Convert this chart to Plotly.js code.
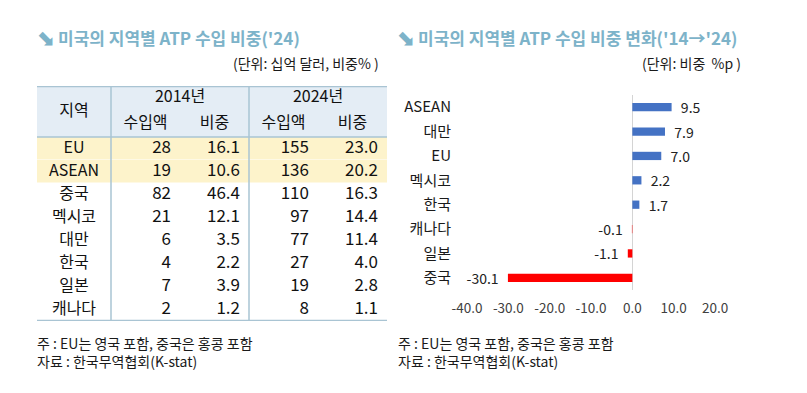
<!DOCTYPE html>
<html>
<head>
<meta charset="utf-8">
<script src="https://cdn.plot.ly/plotly-3.0.1.min.js"></script>
<style>
  html, body { margin: 0; padding: 0; background: #ffffff; }
  #chart { width: 807px; height: 393px; }
</style>
</head>
<body>
<div id="chart"></div>
<script>
// ---------- Data: table (left) ----------
const regions      = ["EU", "ASEAN", "중국", "멕시코", "대만", "한국", "일본", "캐나다"];
const imports2014  = [28, 19, 82, 21, 6, 4, 7, 2];
const share2014    = [16.1, 10.6, 46.4, 12.1, 3.5, 2.2, 3.9, 1.2];
const imports2024  = [155, 136, 110, 97, 77, 27, 19, 8];
const share2024    = [23.0, 20.2, 16.3, 14.4, 11.4, 4.0, 2.8, 1.1];
const highlighted  = ["EU", "ASEAN"];
const regionHeader = "지역";
const yearHeaders  = ["2014년", "2024년"];
const subHeaders   = ["수입액", "비중"];

// ---------- Data: bar chart (right) ----------
const barRegions   = ["ASEAN", "대만", "EU", "멕시코", "한국", "캐나다", "일본", "중국"];
const shareChange  = [9.5, 7.9, 7.0, 2.2, 1.7, -0.1, -1.1, -30.1];
const xTicks       = [-40, -30, -20, -10, 0, 10, 20];

// ---------- Text ----------
const leftTitle  = "미국의 지역별 ATP 수입 비중('24)";
const rightTitle = "미국의 지역별 ATP 수입 비중 변화('14→'24)";
const leftUnit   = "(단위: 십억 달러, 비중% )";
const rightUnit  = "(단위: 비중  %p )";
const note1      = "주 : EU는 영국 포함, 중국은 홍콩 포함";
const note2      = "자료 : 한국무역협회(K-stat)";

// ---------- Styling / layout constants ----------
const FONT = "'Noto Sans CJK KR', 'Noto Sans', sans-serif";
const W = 807, H = 393;
const TEAL = "#7DB3C9";
const LINE = "#A9C4D3";
const HEADER_FILL = "#E4EDF5";
const HILITE_FILL = "#FDF3CB";
const POS = "#4472C4", NEG = "#FF0000";

// Table geometry in table-axis units (1 unit = 1px)
const T_LEFT = 37, T_TOP = 86;
const colEdges = [0, 74, 143, 212, 281, 350];
const headerH = 51, rowH = 23;
const tableH = headerH + rowH * regions.length;
const numPad = 9;

const px2x = p => p / W;
const px2y = p => 1 - p / H;

const rowCenter = regions.map((_, i) => headerH + rowH * i + rowH / 2);
const fmt1 = v => v.toFixed(1);

const traces = [];

// Bar chart
traces.push({
  type: "bar",
  orientation: "h",
  x: shareChange,
  y: barRegions,
  xaxis: "x", yaxis: "y",
  marker: { color: shareChange.map(v => v >= 0 ? POS : NEG), line: { width: 0 } },
  text: shareChange.map(v => v >= 0 ? "\u00a0\u00a0" + fmt1(v) : fmt1(v) + "\u00a0\u00a0"),
  textposition: "outside",
  constraintext: "none",
  cliponaxis: false,
  textfont: { family: FONT, size: 14, color: "#222222" },
  hoverinfo: "skip",
  showlegend: false
});

// Table: region column
traces.push({
  type: "scatter", mode: "text", xaxis: "x2", yaxis: "y2",
  x: regions.map(() => (colEdges[0] + colEdges[1]) / 2),
  y: rowCenter,
  text: regions,
  textposition: "middle center",
  textfont: { family: FONT, size: 16, color: "#111111" },
  cliponaxis: false, hoverinfo: "skip", showlegend: false
});
// Table: numeric columns
const numCols = [
  imports2014.map(v => String(v)),
  share2014.map(fmt1),
  imports2024.map(v => String(v)),
  share2024.map(fmt1)
];
numCols.forEach((col, c) => {
  traces.push({
    type: "scatter", mode: "text", xaxis: "x2", yaxis: "y2",
    x: col.map(() => colEdges[c + 2] - numPad),
    y: rowCenter,
    text: col,
    textposition: "middle left",
    marker: { size: 0 },
    textfont: { family: FONT, size: 17, color: "#111111" },
    cliponaxis: false, hoverinfo: "skip", showlegend: false
  });
});
// Table: header texts
const hx = [], hy = [], ht = [];
hx.push((colEdges[0] + colEdges[1]) / 2); hy.push(26); ht.push(regionHeader);
yearHeaders.forEach((yh, g) => {
  hx.push(colEdges[1 + 2 * g + 1]); hy.push(12); ht.push(yh);
  subHeaders.forEach((sh, s) => {
    const c = 1 + 2 * g + s;
    hx.push((colEdges[c] + colEdges[c + 1]) / 2); hy.push(38); ht.push(sh);
  });
});
traces.push({
  type: "scatter", mode: "text", xaxis: "x2", yaxis: "y2",
  x: hx, y: hy, text: ht, textposition: "middle center",
  textfont: { family: FONT, size: 16, color: "#111111" },
  cliponaxis: false, hoverinfo: "skip", showlegend: false
});

// Shapes for table
const shapes = [];
shapes.push({ type: "rect", xref: "x2", yref: "y2", x0: colEdges[0], x1: colEdges[5], y0: 0, y1: headerH,
  fillcolor: HEADER_FILL, line: { width: 0 }, layer: "below" });
regions.forEach((r, i) => {
  if (highlighted.includes(r)) {
    shapes.push({ type: "rect", xref: "x2", yref: "y2", x0: colEdges[0], x1: colEdges[5],
      y0: headerH + rowH * i, y1: headerH + rowH * (i + 1) - 0.5,
      fillcolor: HILITE_FILL, line: { width: 0 }, layer: "below" });
  }
});
[1, 3].forEach(ci => {
  shapes.push({ type: "line", xref: "x2", yref: "y2", x0: colEdges[ci], x1: colEdges[ci], y0: 0, y1: tableH,
    line: { color: LINE, width: 1.5 } });
});
shapes.push({ type: "line", xref: "x2", yref: "y2", x0: colEdges[0], x1: colEdges[5], y0: 0, y1: 0, line: { color: LINE, width: 2.5 } });
shapes.push({ type: "line", xref: "x2", yref: "y2", x0: colEdges[0], x1: colEdges[5], y0: headerH, y1: headerH, line: { color: LINE, width: 1.5 } });
shapes.push({ type: "line", xref: "x2", yref: "y2", x0: colEdges[0], x1: colEdges[5], y0: tableH, y1: tableH, line: { color: LINE, width: 2.5 } });

// Annotations (titles, units, notes)
const ann = (text, xpx, ypx, opts) => Object.assign({
  text: text, xref: "paper", yref: "paper", x: px2x(xpx), y: px2y(ypx),
  xanchor: "left", yanchor: "middle", showarrow: false, align: "left",
  font: { family: FONT, size: 14, color: "#1a1a1a" }
}, opts || {});

const ICON = "<b>⬊</b>";
const annotations = [
  ann(ICON, 34, 38, { font: { family: "DejaVu Sans", size: 22, color: TEAL } }),
  ann("<b>" + leftTitle + "</b>", 56, 37, { font: { family: FONT, size: 17, color: TEAL } }),
  ann(ICON, 394, 38, { font: { family: "DejaVu Sans", size: 22, color: TEAL } }),
  ann("<b>" + rightTitle + "</b>", 416, 37, { font: { family: FONT, size: 17, color: TEAL } }),
  ann(leftUnit, 381, 63, { xanchor: "right" }),
  ann(rightUnit, 743, 63, { xanchor: "right" }),
  ann(note1 + "<br>" + note2, 35, 352),
  ann(note1 + "<br>" + note2, 396, 352)
];

const layout = {
  width: W, height: H,
  margin: { l: 0, r: 0, t: 0, b: 0, pad: 0 },
  paper_bgcolor: "#ffffff", plot_bgcolor: "rgba(0,0,0,0)",
  showlegend: false,
  bargap: 0.66,
  font: { family: FONT },
  xaxis: {
    domain: [px2x(467), px2x(715)],
    range: [-40, 20],
    tickvals: xTicks,
    ticktext: xTicks.map(fmt1),
    showgrid: false,
    zeroline: true, zerolinecolor: "#D4D4D4", zerolinewidth: 1,
    showline: false,
    ticks: "outside", ticklen: 6, tickcolor: "rgba(0,0,0,0)",
    tickfont: { family: FONT, size: 13.5, color: "#404040" },
    fixedrange: true
  },
  yaxis: {
    domain: [px2y(290), px2y(95)],
    type: "category",
    categoryorder: "array", categoryarray: barRegions,
    autorange: "reversed",
    showgrid: false, zeroline: false, showline: false,
    ticks: "outside", ticklen: 12, tickcolor: "rgba(0,0,0,0)",
    tickfont: { family: FONT, size: 15, color: "#1a1a1a" },
    fixedrange: true
  },
  xaxis2: {
    domain: [px2x(T_LEFT), px2x(T_LEFT + colEdges[5])],
    range: [0, colEdges[5]],
    visible: false, fixedrange: true
  },
  yaxis2: {
    domain: [px2y(T_TOP + tableH), px2y(T_TOP)],
    range: [tableH, 0],
    visible: false, fixedrange: true
  },
  shapes: shapes,
  annotations: annotations
};

Plotly.newPlot("chart", traces, layout, { displayModeBar: false, staticPlot: true });
</script>
</body>
</html>
